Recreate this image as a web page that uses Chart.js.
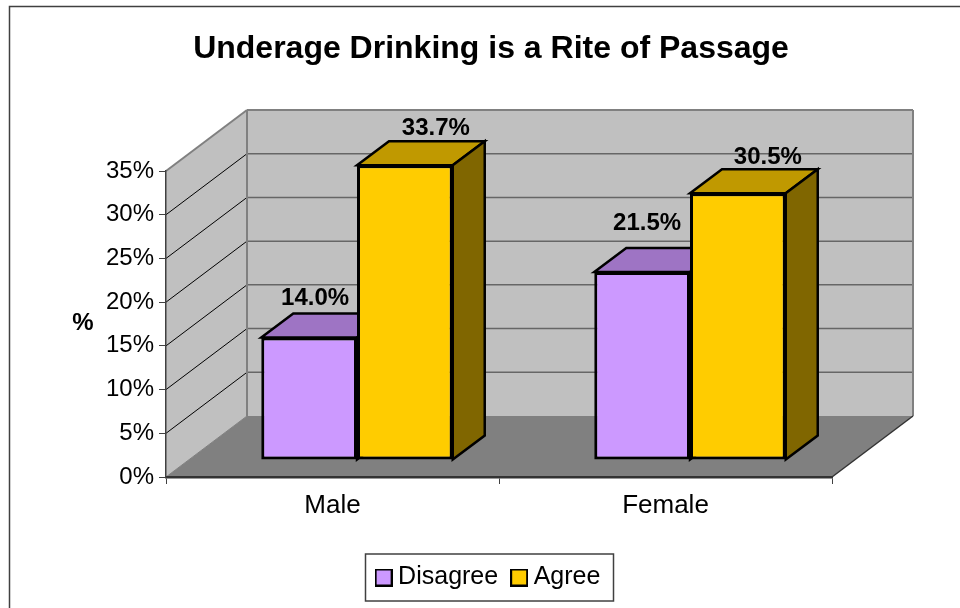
<!DOCTYPE html>
<html><head><meta charset="utf-8">
<script src="https://cdn.jsdelivr.net/npm/chart.js@4"></script>
<style>html,body{margin:0;padding:0;background:#fff;overflow:hidden;width:960px;height:608px}
#w{position:absolute;left:0;top:0;width:982px;height:608px}</style>
</head><body><div id="w"><canvas id="c" width="982" height="608"></canvas></div>
<script>
const categories = ["Male", "Female"];
const disagree = [14.0, 21.5];
const agree = [33.7, 30.5];
const yTicks = [0, 5, 10, 15, 20, 25, 30, 35];
const titleText = "Underage Drinking is a Rite of Passage";
const yTitle = "%";

const FONT = '"Liberation Sans", Arial, sans-serif';
const WALL = {dx: 81, dy: -61};     // depth of the box
const BAR = {dx: 32, dy: -24};      // depth of each bar
const SHIFT = {x: 24.5, y: -17};    // bars stand inside the floor
const LABEL_OFF = [[6, -39], [5, -49], [31, -37], [30, -36]];

function poly(ctx, pts, fill, stroke, lw) {
  ctx.beginPath();
  pts.forEach((p, i) => i ? ctx.lineTo(p[0], p[1]) : ctx.moveTo(p[0], p[1]));
  ctx.closePath();
  if (fill) { ctx.fillStyle = fill; ctx.fill(); }
  if (stroke) { ctx.strokeStyle = stroke; ctx.lineWidth = lw; ctx.lineJoin = 'miter'; ctx.stroke(); }
}
function line(ctx, a, b, c, lw) {
  ctx.beginPath(); ctx.moveTo(a[0], a[1]); ctx.lineTo(b[0], b[1]);
  ctx.strokeStyle = c; ctx.lineWidth = lw; ctx.stroke();
}
function marker(color) {
  const k = document.createElement('canvas');
  k.width = 18; k.height = 18;
  const g = k.getContext('2d');
  g.fillStyle = color; g.fillRect(0, 0, 18, 18);
  g.strokeStyle = '#000'; g.lineWidth = 2; g.strokeRect(1, 1, 16, 16);
  return k;
}

const box3d = {
  id: 'box3d',
  beforeDraw(chart) {
    const {ctx, chartArea: a, scales: {y}} = chart;
    ctx.save();
    poly(ctx, [[9.5, 6.5], [1200, 6.5], [1200, 800], [9.5, 800]], null, '#404040', 1.5);
    const L = a.left, R = a.right, T = a.top, B = a.bottom;
    const d = WALL;
    // back wall and side wall
    poly(ctx, [[L + d.dx, T + d.dy], [R + d.dx, T + d.dy], [R + d.dx, B + d.dy], [L + d.dx, B + d.dy]], '#C0C0C0');
    poly(ctx, [[L, T], [L + d.dx, T + d.dy], [L + d.dx, B + d.dy], [L, B]], '#C0C0C0');
    // floor
    poly(ctx, [[L, B], [R, B], [R + d.dx, B + d.dy], [L + d.dx, B + d.dy]], '#808080');
    // gridlines
    y.ticks.forEach(t => {
      const py = y.getPixelForValue(t.value);
      if (t.value > 0) line(ctx, [L + d.dx, py + d.dy], [R + d.dx, py + d.dy], '#666666', 1.5);
      if (t.value > 0 && t.value < 35) line(ctx, [L, py], [L + d.dx, py + d.dy], '#000000', 1);
    });
    // box edges
    line(ctx, [L, T], [L + d.dx, T + d.dy], '#808080', 2);
    line(ctx, [L + d.dx, T + d.dy], [R + d.dx, T + d.dy], '#808080', 2);
    line(ctx, [L + d.dx, T + d.dy], [L + d.dx, B + d.dy], '#808080', 2);
    line(ctx, [R + d.dx, T + d.dy], [R + d.dx, B + d.dy], '#808080', 2);
    line(ctx, [L, B], [L + d.dx, B + d.dy], '#808080', 1);
    line(ctx, [R, B], [R + d.dx, B + d.dy], '#333333', 1.5);
    ctx.restore();
  },
  beforeDatasetDraw() { return false; },
  afterDatasetsDraw(chart) {
    const {ctx} = chart;
    ctx.save();
    ctx.translate(SHIFT.x, SHIFT.y);
    chart.data.datasets.forEach((ds, i) => {
      const meta = chart.getDatasetMeta(i);
      meta.data.forEach(el => {
        const p = el.getProps(['x', 'y', 'base', 'width'], true);
        const l = p.x - p.width / 2, r = p.x + p.width / 2, t = p.y, b = p.base;
        const dx = BAR.dx, dy = BAR.dy;
        poly(ctx, [[l, t], [r, t], [r + dx, t + dy], [l + dx, t + dy]], ds.topColor, '#000', 2.5);
        poly(ctx, [[r, t], [r + dx, t + dy], [r + dx, b + dy], [r, b]], ds.sideColor, '#000', 2.5);
      });
      meta.controller.draw();
    });
    ctx.restore();
  },
  afterDraw(chart) {
    const {ctx, legend} = chart;
    ctx.save();
    // value labels
    ctx.font = 'bold 24px ' + FONT;
    ctx.fillStyle = '#000';
    ctx.textAlign = 'center';
    ctx.textBaseline = 'middle';
    let n = 0;
    chart.data.datasets.forEach((ds, i) => {
      chart.getDatasetMeta(i).data.forEach((el, j) => {
        const o = LABEL_OFF[n++];
        ctx.fillText(ds.data[j].toFixed(1) + '%', el.x + SHIFT.x + o[0], el.y + SHIFT.y + o[1]);
      });
    });
    // y axis title (upright)
    ctx.fillText(yTitle, 83, 323);
    // legend frame
    const hb = legend.legendHitBoxes;
    const left = hb[0].left - 17, right = hb[hb.length - 1].left + hb[hb.length - 1].width + 12;
    ctx.strokeStyle = '#404040'; ctx.lineWidth = 1.5;
    ctx.strokeRect(Math.round(left) + .5, 554, Math.round(right - left), 47);
    ctx.restore();
  }
};

new Chart(document.getElementById('c'), {
  type: 'bar',
  data: {
    labels: categories,
    datasets: [
      {label: 'Disagree', data: disagree, backgroundColor: '#CC99FF', borderColor: '#000', borderWidth: 3, topColor: '#9E74C4', sideColor: '#664D80'},
      {label: 'Agree', data: agree, backgroundColor: '#FFCC00', borderColor: '#000', borderWidth: 3, topColor: '#C09900', sideColor: '#806600'}
    ]
  },
  plugins: [box3d],
  options: {
    responsive: false,
    animation: false,
    events: [],
    layout: {autoPadding: false, padding: {left: 0, right: 0, top: 0, bottom: 8}},
    datasets: {bar: {categoryPercentage: 0.575, barPercentage: 1, borderSkipped: false}},
    scales: {
      x: {
        grid: {drawOnChartArea: false, drawTicks: true, tickLength: 7, tickColor: '#404040', offset: true},
        border: {color: '#333333', width: 2.5},
        ticks: {color: '#000', font: {family: FONT, size: 26}, padding: 6, maxRotation: 0},
        afterFit(s) { s.height = 69; }
      },
      y: {
        min: 0, max: 35,
        afterBuildTicks(s) { s.ticks = yTicks.map(v => ({value: v})); },
        grid: {drawOnChartArea: false, drawTicks: true, tickLength: 7, tickColor: '#404040'},
        border: {color: '#404040', width: 1.5},
        ticks: {color: '#000', font: {family: FONT, size: 24}, padding: 5, callback: v => v + '%'},
        afterFit(s) { s.width = 166; }
      },
      pad: {
        type: 'linear', position: 'right', display: true,
        grid: {display: false}, border: {display: false}, ticks: {display: false},
        afterFit(s) { s.width = 150; }
      }
    },
    plugins: {
      tooltip: {enabled: false},
      title: {display: true, text: titleText, color: '#000', font: {family: FONT, size: 32, weight: 'bold'},
        padding: {top: 30, bottom: 102.6}},
      legend: {position: 'bottom', labels: {color: '#000', font: {family: FONT, size: 25}, usePointStyle: true,
        pointStyleWidth: 4, boxHeight: 18, padding: 19,
        generateLabels(chart) {
          return Chart.defaults.plugins.legend.labels.generateLabels(chart).map((it, i) => {
            it.pointStyle = marker(chart.data.datasets[i].backgroundColor);
            return it;
          });
        }}}
    }
  }
});
</script></body></html>
